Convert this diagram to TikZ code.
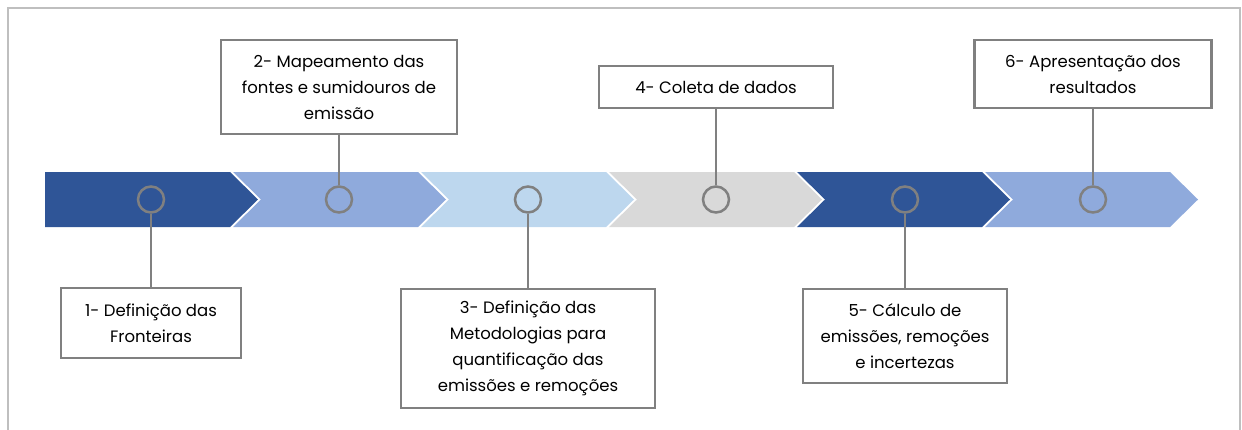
\documentclass[tikz,border=0pt]{standalone}
\usepackage{fontspec}
\setmainfont{Poppins}
\usepackage{xcolor}
\usepackage{tikz}

\definecolor{darkblue}{HTML}{2F5597}
\definecolor{midblue}{HTML}{8FAADC}
\definecolor{lightblue}{HTML}{BDD7EE}
\definecolor{lightgray}{HTML}{D9D9D9}
\definecolor{linegray}{HTML}{808080}
\definecolor{framegray}{HTML}{BFBFBF}

\tikzset{
  box/.style={draw=linegray, line width=2.5pt, fill=white, align=center,
    inner sep=2pt, font=\fontsize{16.5}{26}\selectfont},
  dot/.style={circle, draw=linegray, line width=2.5pt, minimum size=26pt, inner sep=0pt},
  link/.style={draw=linegray, line width=2.5pt}
}

\begin{document}
\begin{tikzpicture}[x=1pt, y=-1pt]
      \useasboundingbox (0, 0) rectangle (1242, 429);
      \begin{scope}
        \clip (0, 0) rectangle (1242, 429);
        \draw[framegray, line width=1.5pt] (8, 8) rectangle (1240, 460);
      \end{scope}
      % chevrons
      \fill[darkblue] (45, 172) -- (230, 172) -- (258, 199.5) -- (230, 227) -- (45, 227) -- cycle;
      \fill[midblue] (233, 172) -- (418, 172) -- (446, 199.5) -- (418, 227) -- (233, 227) -- (261, 199.5) -- cycle;
      \fill[lightblue] (421, 172) -- (606, 172) -- (634, 199.5) -- (606, 227) -- (421, 227) -- (449, 199.5) -- cycle;
      \fill[lightgray] (609, 172) -- (794, 172) -- (822, 199.5) -- (794, 227) -- (609, 227) -- (637, 199.5) -- cycle;
      \fill[darkblue] (797, 172) -- (982, 172) -- (1010, 199.5) -- (982, 227) -- (797, 227) -- (825, 199.5) -- cycle;
      \fill[midblue] (985, 172) -- (1170, 172) -- (1198, 199.5) -- (1170, 227) -- (985, 227) -- (1013, 199.5) -- cycle;
      % markers
      \node[dot] (c1) at (151, 199.5) {};
      \node[dot] (c2) at (339, 199.5) {};
      \node[dot] (c3) at (528, 199.5) {};
      \node[dot] (c4) at (716, 199.5) {};
      \node[dot] (c5) at (905, 199.5) {};
      \node[dot] (c6) at (1093, 199.5) {};
      % labels
      \node[box, minimum width=180pt, minimum height=70pt] (b1) at (151, 323) {1- Definição das\\Fronteiras};
      \node[box, minimum width=236pt, minimum height=94pt] (b2) at (339, 87) {2- Mapeamento das\\fontes e sumidouros de\\emissão};
      \node[box, minimum width=254pt, minimum height=119pt] (b3) at (528, 348.5) {3- Definição das\\Metodologias para\\quantificação das\\emissões e remoções};
      \node[box, minimum width=234pt, minimum height=42pt] (b4) at (716, 87) {4- Coleta de dados};
      \node[box, minimum width=204pt, minimum height=94pt] (b5) at (905, 336) {5- Cálculo de\\emissões, remoções\\e incertezas};
      \node[box, minimum width=237pt, minimum height=68pt] (b6) at (1093, 74) {6- Apresentação dos\\resultados};
      % connectors
      \draw[link] (c1) -- (b1);
      \draw[link] (c2) -- (b2);
      \draw[link] (c3) -- (b3);
      \draw[link] (c4) -- (b4);
      \draw[link] (c5) -- (b5);
      \draw[link] (c6) -- (b6);
    \end{tikzpicture}
\end{document}
